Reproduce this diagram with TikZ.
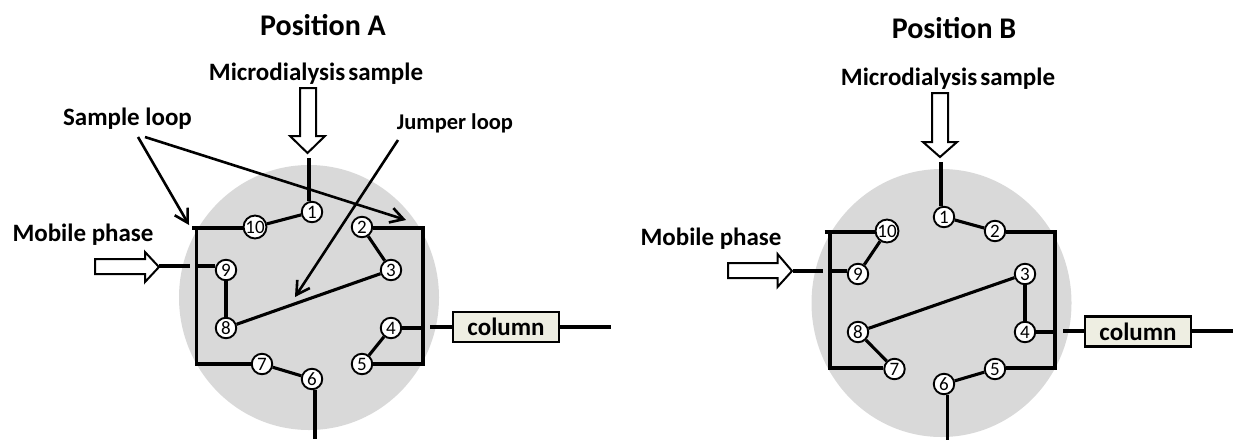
\documentclass[tikz,border=0pt]{standalone}
\usepackage{fontspec}
\setmainfont{Carlito}
\usetikzlibrary{arrows.meta}
\definecolor{disccol}{HTML}{D9D9D9}
\definecolor{colfill}{HTML}{EEEEE2}
\tikzset{
  discfill/.style={fill=disccol},
  port/.style={circle,draw=black,line width=1.9pt,fill=white,minimum size=20.5pt,inner sep=0pt,font=\fontsize{19}{19}\selectfont},
  pipe/.style={line width=3.1pt,black},
  frame/.style={line width=3.3pt,black},
  pointer/.style={line width=2.6pt,black,-{Straight Barb[length=13pt,width=15pt,line width=2.6pt]}},
  blockarrow/.style={draw=black,line width=2pt,fill=white,line join=miter},
  title/.style={font=\bfseries\fontsize{30}{30}\selectfont,inner sep=0pt},
  label/.style={font=\bfseries\fontsize{25}{25}\selectfont,inner sep=0pt},
  columnbox/.style={draw=black,line width=2.2pt,fill=colfill,inner sep=0pt,font=\bfseries\fontsize{25}{25}\selectfont}
}
\begin{document}
\begin{tikzpicture}[x=1pt,y=-1pt]
\useasboundingbox (0,0) rectangle (1233,440);
% discs
\path[discfill] (309,297.5) ellipse [x radius=130,y radius=132.5];
\path[discfill] (941.5,303) ellipse [x radius=130,y radius=134];

% ---------- Position A ----------
\node[title] (titleA) at (323,25) {Position A};
\node[label] (sampleA) at (316,74) {\spaceskip=.12em Microdialysis sample};
\node[label] (loopA) at (127.5,119) {Sample loop};
\node[label,font=\bfseries\fontsize{22.5}{22.5}\selectfont] (jumpA) at (455,123) {Jumper loop};
\node[label] (mobileA) at (83,235) {Mobile phase};

\foreach \n/\x/\y in {1/312/212,10/255/227,2/362/227,9/226/270,3/391/270,8/226/328,4/391/328,7/262/364,5/362/364,6/312/379}
  \node[port] (a\n) at (\x,\y) {\n};
\node[columnbox,minimum width=106pt,minimum height=30pt] (colA) at (506,327) {column};

\coordinate (aTL) at (196.5,228);
\coordinate (aTLs) at (192,228);
\coordinate (aBL) at (196.5,364);
\coordinate (aTR) at (423,228);
\coordinate (aBR) at (423,364);
\coordinate (aUp) at (309,158);
\coordinate (aDown) at (315,439);
\coordinate (aMobIn) at (159,266);
\coordinate (aMobEnd) at (190,266);
\coordinate (aStub) at (430,327);
\coordinate (aOut) at (611,327);

\draw[pipe] (a10) -- (a1);
\draw[pipe] (a2) -- (a3);
\draw[pipe] (a3) -- (a8);
\draw[pipe] (a8) -- (a9);
\draw[pipe] (a4) -- (a5);
\draw[pipe] (a7) -- (a6);
\draw[pipe] (aUp) -- (aUp |- a1.north);
\draw[pipe] (aDown |- a6.south) -- (aDown);
\draw[frame] (aTLs) -- (a10.west |- aTLs);
\draw[frame] (aTL) -- (aBL) -- (a7.west);
\draw[frame] (a2.east |- aTR) -- (aTR) -- (aBR) -- (a5.east);
\draw[pipe] (a4.east) -- (a4.east -| aTR);
\draw[pipe] (aMobIn) -- (aMobEnd);
\draw[pipe] (aTL |- aMobIn) -- (a9.160 |- aMobIn);
\draw[pipe] (aStub) -- (colA.west |- aStub);
\draw[pipe] (colA.east |- aOut) -- (aOut);

\coordinate (aP1s) at (138,137); \coordinate (aP1e) at (189,225);
\coordinate (aP2s) at (145,137); \coordinate (aP2e) at (406,220);
\coordinate (aP3s) at (398,140); \coordinate (aP3e) at (295,297);
\draw[pointer] (aP1s) -- (aP1e);
\draw[pointer] (aP2s) -- (aP2e);
\draw[pointer] (aP3s) -- (aP3e);

\draw[blockarrow] (300,88) -- (316,88) -- (316,136) -- (325,136) -- (307.5,153) -- (290,136) -- (300,136) -- cycle;
\draw[blockarrow] (95,259) -- (145,259) -- (145,252) -- (159,267) -- (145,282) -- (145,274) -- (95,274) -- cycle;

% ---------- Position B ----------
\node[title] (titleB) at (954,28) {Position B};
\node[label] (sampleB) at (948,79) {\spaceskip=.12em Microdialysis sample};
\node[label] (mobileB) at (711,239) {Mobile phase};

\foreach \n/\x/\y in {1/944/217,10/887/231,2/995/231,9/858/274,3/1025/274,8/858/332,4/1025/332,7/894.5/369,5/995/369,6/944/384}
  \node[port] (b\n) at (\x,\y) {\n};
\node[columnbox,minimum width=106pt,minimum height=30pt] (colB) at (1138,331.5) {column};

\coordinate (bTL) at (830,232);
\coordinate (bTLs) at (824.5,232);
\coordinate (bBL) at (830,368);
\coordinate (bTR) at (1055,232);
\coordinate (bBR) at (1055,368);
\coordinate (bUp) at (941,162);
\coordinate (bDown) at (947.5,440);
\coordinate (bMobIn) at (793,271);
\coordinate (bMobEnd) at (822.5,271);
\coordinate (bStub) at (1063,331);
\coordinate (bOut) at (1233,331);

\draw[pipe] (b1) -- (b2);
\draw[pipe] (b3) -- (b4);
\draw[pipe] (b3) -- (b8);
\draw[pipe] (b8) -- (b7);
\draw[pipe] (b9) -- (b10);
\draw[pipe] (b5) -- (b6);
\draw[pipe] (bUp) -- (bUp |- b1.north);
\draw[pipe] (bDown |- b6.south) -- (bDown);
\draw[frame] (bTLs) -- (b10.west |- bTLs);
\draw[frame] (bTL) -- (bBL) -- (b7.west |- bBL);
\draw[frame] (b2.east |- bTR) -- (bTR) -- (bBR) -- (b5.east |- bBR);
\draw[pipe] (b4.east) -- (b4.east -| bTR);
\draw[pipe] (bMobIn) -- (bMobEnd);
\draw[pipe] (bTL |- bMobIn) -- (b9.160 |- bMobIn);
\draw[pipe] (bStub) -- (colB.west |- bStub);
\draw[pipe] (colB.east |- bOut) -- (bOut);

\draw[blockarrow] (932,93) -- (948,93) -- (948,142) -- (957,142) -- (940,157) -- (923,142) -- (932,142) -- cycle;
\draw[blockarrow] (728,263) -- (777.5,263) -- (777.5,254) -- (792,271) -- (777.5,287) -- (777.5,278) -- (728,278) -- cycle;
\end{tikzpicture}
\end{document}
